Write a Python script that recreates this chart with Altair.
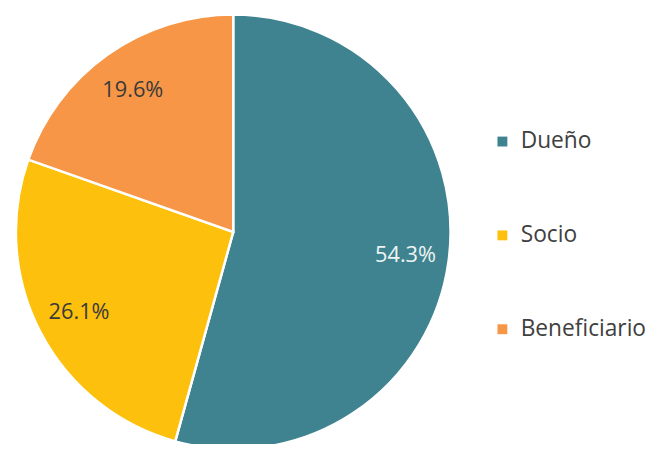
import altair as alt
import pandas as pd

categories = ["Dueño", "Socio", "Beneficiario"]
values = [54.3, 26.1, 19.6]
labels = ["54.3%", "26.1%", "19.6%"]
colors = ["#3F8390", "#FDC00C", "#F79646"]
label_colors = ["#EEF4F4", "#3A3A3A", "#3A3A3A"]

df = pd.DataFrame({
    "cat": categories,
    "val": values,
    "lab": labels,
    "ord": list(range(len(categories))),
    "lc": label_colors,
})

cx, cy = 228, 224

base = alt.Chart(df).encode(
    theta=alt.Theta("val:Q", stack=True),
    order=alt.Order("ord:Q"),
)

pie = base.mark_arc(outerRadius=220, stroke="white", strokeWidth=2.5).encode(
    x=alt.value(cx),
    y=alt.value(cy),
    color=alt.Color(
        "cat:N",
        scale=alt.Scale(domain=categories, range=colors),
        sort=categories,
        legend=alt.Legend(
            title=None,
            orient="none",
            legendX=489,
            legendY=121,
            padding=0,
            symbolType="square",
            symbolSize=100,
            symbolStrokeWidth=0,
            labelFont="Open Sans",
            labelFontSize=23,
            labelColor="#404040",
            rowPadding=71,
            labelOffset=7,
        ),
    ),
)

text = base.mark_text(radius=176, font="Open Sans", fontSize=22).encode(
    x=alt.value(cx),
    y=alt.value(cy),
    text="lab:N",
    color=alt.Color("lc:N", scale=None),
)

chart = alt.layer(pie, text).properties(
    width=657,
    height=436,
    autosize=alt.AutoSizeParams(type="none"),
    padding=0,
    background="white",
).configure_view(stroke=None)

chart.save("out.html", embed_options={"renderer": "svg", "actions": False})
